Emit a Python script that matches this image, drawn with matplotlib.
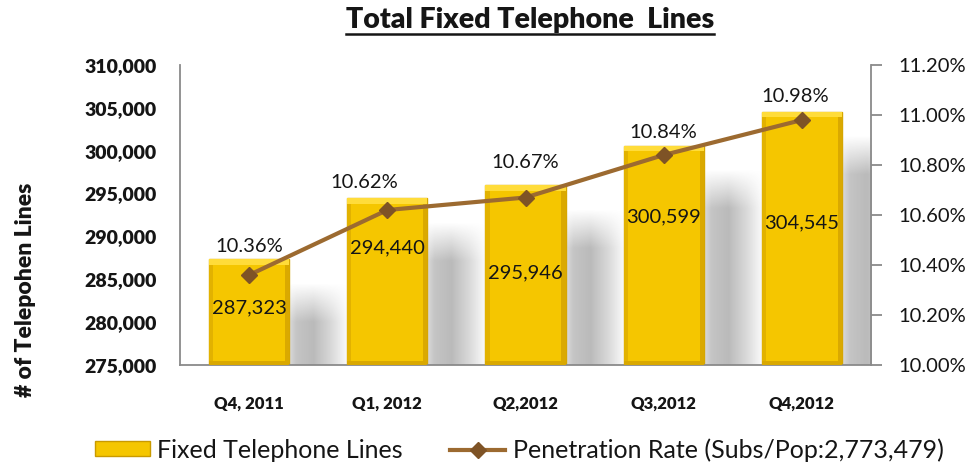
import numpy as np
import matplotlib
matplotlib.use('Agg')
import matplotlib.pyplot as plt
from matplotlib.lines import Line2D
from matplotlib.patches import Patch, Rectangle
from matplotlib.ticker import FuncFormatter

plt.rcParams['font.family'] = ['Lato', 'DejaVu Sans']

# data
quarters = ['Q4, 2011', 'Q1, 2012', 'Q2,2012', 'Q3,2012', 'Q4,2012']
lines = [287323, 294440, 295946, 300599, 304545]
penetration = [10.36, 10.62, 10.67, 10.84, 10.98]

# where the bar value labels sit (manually placed in the original)
value_label_y = [281650, 288650, 285733, 292267, 291567]
# offsets of the percentage labels from the markers (pixels)
pct_dx = [0, -23, 0, 0, -7]
pct_dy = [28, 27, 35, 23, 23]

gold = '#F5C600'
brown = '#9C6A30'
txt = '#151515'
grey = '#8a8a8a'

fig = plt.figure(figsize=(9.72, 4.62), dpi=100)
ax = fig.add_axes([180/972, 1-365/462, (871-180)/972, 300/462])
ax2 = ax.twinx()

x = np.arange(len(quarters))
w = 0.58
ymin, ymax = 275000, 310000
ax.set_xlim(-0.5, len(quarters)-0.5)
ax.set_ylim(ymin, ymax)

# soft grey shadows to the right of the bars
nx, ny = 80, 120
gx = np.linspace(0, 1, nx)
hprof = np.interp(gx, [0, 0.12, 0.4, 0.7, 1.0], [0.55, 0.85, 1.0, 0.55, 0.0])
for xi, v in zip(x, lines):
    top = v - 2800
    yy = np.linspace(top, ymin, ny)          # top row first
    vprof = np.clip((top - yy)/4500, 0, 1)
    img = np.zeros((ny, nx, 4))
    img[..., :3] = 0.55
    img[..., 3] = np.outer(vprof, hprof)*0.6
    ax.imshow(img, extent=(xi+w/2, xi+w/2+0.44, ymin, top), origin='upper',
              aspect='auto', interpolation='bilinear', zorder=1)

# bars with a little bevel
ax.bar(x, np.array(lines)-ymin, bottom=ymin, width=w, color=gold,
       edgecolor='#D6A600', linewidth=1.0, zorder=2)
bev = 0.03
for xi, v in zip(x, lines):
    ax.add_patch(Rectangle((xi-w/2, v-600), w, 600, color='#FFDC3A', zorder=3, lw=0))
    ax.add_patch(Rectangle((xi-w/2, ymin), bev, v-ymin-600, color='#E2B200', zorder=3, lw=0))
    ax.add_patch(Rectangle((xi+w/2-bev, ymin), bev, v-ymin-600, color='#DAA900', zorder=3, lw=0))
    ax.add_patch(Rectangle((xi-w/2, ymin), w, 450, color='#D9A800', zorder=3, lw=0))

for xi, v, ly in zip(x, lines, value_label_y):
    ax.text(xi, ly, f'{v:,}', ha='center', va='center', fontsize=14.5,
            color=txt, zorder=4)

ax.set_yticks(np.arange(ymin, ymax+1, 5000))
ax.yaxis.set_major_formatter(FuncFormatter(lambda v, p: f'{int(v):,}'))
ax.tick_params(axis='y', length=0, pad=17, labelsize=14, labelcolor=txt)
for lab in ax.get_yticklabels():
    lab.set_fontweight('heavy')
ax.set_xticks(x)
ax.set_xticklabels(quarters, fontsize=12, fontweight='heavy', color=txt)
ax.tick_params(axis='x', length=0, pad=22)

for s in ['top', 'right']:
    ax.spines[s].set_visible(False)
ax.spines['left'].set_color(grey)
ax.spines['bottom'].set_color(grey)
ax.spines['left'].set_linewidth(1.3)
ax.spines['bottom'].set_linewidth(1.3)

# penetration rate line
ax2.set_ylim(10.0, 11.2)
ax2.plot(x, penetration, color=brown, lw=3, marker='D', markersize=8,
         markerfacecolor='#7E5326', markeredgecolor='#7E5326', zorder=5)
for xi, p, dx, dy in zip(x, penetration, pct_dx, pct_dy):
    ax2.annotate(f'{p:.2f}%', (xi, p), xytext=(dx*0.72, dy*0.72),
                 textcoords='offset points', ha='center', va='center',
                 fontsize=14.5, color=txt)
ax2.set_yticks(np.arange(10.0, 11.21, 0.2))
ax2.yaxis.set_major_formatter(FuncFormatter(lambda v, p: f'{v:.2f}%'))
ax2.tick_params(axis='y', length=8, width=1.3, color=grey, pad=12,
                labelsize=14.5, labelcolor=txt)
for s in ['top', 'left', 'bottom']:
    ax2.spines[s].set_visible(False)
ax2.spines['right'].set_color(grey)
ax2.spines['right'].set_linewidth(1.3)

fig.text(25/972, 1-290/462, '# of Telepohen Lines', rotation=90, ha='center',
         va='center', fontsize=16.5, fontweight='heavy', color=txt)

title = fig.text(0.545, 1-20/462, 'Total Fixed Telephone  Lines', ha='center',
                 va='center', fontsize=20.5, fontweight='heavy', color=txt)

handles = [Patch(facecolor=gold, edgecolor='#C99A00'),
           Line2D([], [], color=brown, lw=3, marker='D', markersize=8,
                  markerfacecolor='#7E5326', markeredgecolor='#7E5326')]
fig.legend(handles, ['Fixed Telephone Lines', 'Penetration Rate (Subs/Pop:2,773,479)'],
           loc='center', bbox_to_anchor=(0.534, 1-450/462), ncol=2, frameon=False,
           handlelength=2.2, handleheight=0.55, columnspacing=1.9,
           handletextpad=0.3, labelcolor=txt, prop={'size': 18})

# underline the title
fig.canvas.draw()
bb = title.get_window_extent(fig.canvas.get_renderer())
W, H = fig.bbox.width, fig.bbox.height
fig.add_artist(Line2D([bb.x0/W, bb.x1/W], [(bb.y0-1)/H]*2, color=txt, lw=1.8,
                      transform=fig.transFigure))

fig.savefig('out.png', dpi=100)
